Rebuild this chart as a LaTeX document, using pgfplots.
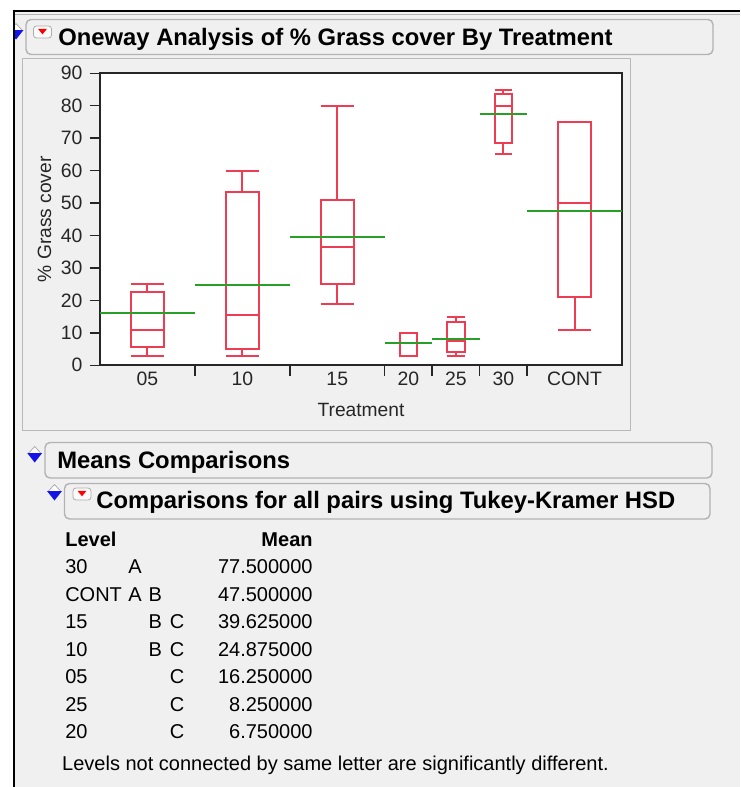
\documentclass[border=0pt]{standalone}
\usepackage{pgfplots}
\pgfplotsset{compat=1.18}
\usepgfplotslibrary{statistics}
\usepackage{fontspec}
\setmainfont{Liberation Sans}

\definecolor{jmpred}{RGB}{238,60,82}
\definecolor{jmpgreen}{RGB}{40,160,40}
\definecolor{panel}{RGB}{240,240,240}
\definecolor{hdrline}{RGB}{178,178,178}
\definecolor{iconblue}{RGB}{20,20,230}

\newcommand{\hdrfont}{\fontsize{11.9}{14}\selectfont\bfseries}
\newcommand{\tabfont}{\fontsize{10}{12}\selectfont}

% disclosure icon: centre x, split y
\newcommand{\disclose}[2]{%
  \fill[white] (#1-6,#2) -- (#1+6,#2) -- (#1,#2-6.5) -- cycle;
  \draw[gray!70, line width=0.35pt] (#1-6,#2) -- (#1,#2-6.5) -- (#1+6,#2);
  \fill[iconblue] (#1-7.5,#2) -- (#1+7.5,#2) -- (#1,#2+9.5) -- cycle;}
% red menu button: left, top
\newcommand{\redbtn}[2]{%
  \draw[gray!65, line width=0.4pt, fill=white!96!gray, rounded corners=1.5pt] (#1,#2) rectangle (#1+18,#2+12);
  \fill[red] (#1+4.5,#2+2.8) -- (#1+13.5,#2+2.8) -- (#1+9,#2+8.3) -- cycle;}

\begin{document}
\begin{tikzpicture}
\path[use as bounding box] (0pt,0pt) rectangle (370pt,-393.5pt);

\begin{scope}[x=0.5pt,y=-0.5pt]
\fill[white] (0,0) rectangle (740,787);
\fill[panel] (13,11) rectangle (740,787);
\begin{scope}
  \clip (14,0) rectangle (740,787);
  \disclose{16}{30}
\end{scope}
\draw[black, line width=1pt] (13,11) -- (740,11);
\draw[gray!60, line width=0.6pt] (15,14.5) -- (740,14.5);
\draw[black, line width=1pt] (13.5,11) -- (13.5,787);

% title bar
\draw[hdrline, line width=0.7pt, fill=panel, rounded corners=2.5pt] (26,19.5) rectangle (713,54.5);
\redbtn{33.5}{26}
\node[anchor=base west, inner sep=0pt, font=\hdrfont] at (58,45) {Oneway Analysis of \% Grass cover By Treatment};

% plot panel
\draw[gray!55, line width=0.75pt] (22.5,58.5) rectangle (630.5,430.5);

% means comparisons bars
\disclose{34.7}{453}
\draw[hdrline, line width=0.7pt, fill=panel, rounded corners=2.5pt] (45,442.5) rectangle (712,478);
\node[anchor=base west, inner sep=0pt, font=\hdrfont] at (57,468) {Means Comparisons};
\disclose{54.5}{491}
\draw[hdrline, line width=0.7pt, fill=panel, rounded corners=2.5pt] (64.5,483.5) rectangle (710,519);
\redbtn{73}{488}
\node[anchor=base west, inner sep=0pt, font=\hdrfont] at (96,508.5) {Comparisons for all pairs using Tukey-Kramer HSD};

% connecting letters report
\node[anchor=base west, inner sep=0pt, font=\tabfont\bfseries] at (64.9,546.7) {Level};
\node[anchor=base east, inner sep=0pt, font=\tabfont\bfseries] at (313,546.7) {Mean};
\begin{scope}[every node/.style={inner sep=0pt, font=\tabfont}]
\node[anchor=base west] at (64.9,573.3) {30};
\node[anchor=base west] at (128,573.3) {A};
\node[anchor=base east] at (313,573.3) {77.500000};
\node[anchor=base west] at (64.9,601) {CONT};
\node[anchor=base west] at (128,601) {A};
\node[anchor=base west] at (148.3,601) {B};
\node[anchor=base east] at (313,601) {47.500000};
\node[anchor=base west] at (64.9,628.6) {15};
\node[anchor=base west] at (148.3,628.6) {B};
\node[anchor=base west] at (169.4,628.6) {C};
\node[anchor=base east] at (313,628.6) {39.625000};
\node[anchor=base west] at (64.9,656.2) {10};
\node[anchor=base west] at (148.3,656.2) {B};
\node[anchor=base west] at (169.4,656.2) {C};
\node[anchor=base east] at (313,656.2) {24.875000};
\node[anchor=base west] at (64.9,683.7) {05};
\node[anchor=base west] at (169.4,683.7) {C};
\node[anchor=base east] at (313,683.7) {16.250000};
\node[anchor=base west] at (64.9,711.2) {25};
\node[anchor=base west] at (169.4,711.2) {C};
\node[anchor=base east] at (313,711.2) {8.250000};
\node[anchor=base west] at (64.9,738.7) {20};
\node[anchor=base west] at (169.4,738.7) {C};
\node[anchor=base east] at (313,738.7) {6.750000};
\node[anchor=base west] at (61.8,770) {Levels not connected by same letter are significantly different.};
\end{scope}
\end{scope}

\begin{axis}[
    at={(50pt,-182.65pt)}, anchor=south west,
    scale only axis, width=261pt, height=146pt,
    xmin=0, xmax=44, ymin=0, ymax=90,
    axis background/.style={fill=white},
    axis line style={black!85, line width=1.1pt},
    tick align=outside, major tick length=5.2pt,
    tick style={black!85, line width=0.7pt},
    xtick pos=bottom, ytick pos=left,
    xtick={8,16,24,28,32,36}, xticklabels={},
    extra x ticks={4,12,20,26,30,34,40},
    extra x tick labels={05,10,15,20,25,30,CONT},
    extra x tick style={major tick length=0pt, tick style={draw=none}},
    ytick={0,10,...,90},
    ticklabel style={font=\fontsize{9.7}{11}\selectfont, text=black!85},
    /pgf/number format/assume math mode=true,
    xlabel={Treatment}, ylabel={\% Grass cover},
    label style={font=\fontsize{9.6}{11}\selectfont, text=black!85},
    xlabel style={yshift=3.5pt},
    ylabel style={yshift=-2pt},
    boxplot/draw direction=y,
    boxplot/every box/.style={draw=jmpred, line width=1pt},
    boxplot/every whisker/.style={draw=jmpred, line width=1pt},
    boxplot/every median/.style={draw=jmpred, line width=1pt},
]
% box plots: 8-unit groups (n=8) and 4-unit groups (n=4)
\addplot[jmpred, line width=1pt, boxplot prepared={draw position=4, lower whisker=3, lower quartile=5.5, median=11, upper quartile=22.5, upper whisker=25, box extend=2.8, whisker extend=2.8}] coordinates {};
\addplot[jmpred, line width=1pt, boxplot prepared={draw position=12, lower whisker=3, lower quartile=5, median=15.5, upper quartile=53.5, upper whisker=60, box extend=2.8, whisker extend=2.8}] coordinates {};
\addplot[jmpred, line width=1pt, boxplot prepared={draw position=20, lower whisker=19, lower quartile=25, median=36.5, upper quartile=51, upper whisker=80, box extend=2.8, whisker extend=2.8}] coordinates {};
\addplot[jmpred, line width=1pt, boxplot prepared={draw position=26, lower whisker=3, lower quartile=3, median=7, upper quartile=10, upper whisker=10, box extend=1.45, whisker extend=1.45}] coordinates {};
\addplot[jmpred, line width=1pt, boxplot prepared={draw position=30, lower whisker=3, lower quartile=4, median=7.5, upper quartile=13.5, upper whisker=15, box extend=1.45, whisker extend=1.45}] coordinates {};
\addplot[jmpred, line width=1pt, boxplot prepared={draw position=34, lower whisker=65, lower quartile=68.5, median=80, upper quartile=83.5, upper whisker=85, box extend=1.45, whisker extend=1.45}] coordinates {};
\addplot[jmpred, line width=1pt, boxplot prepared={draw position=40, lower whisker=11, lower quartile=21, median=50, upper quartile=75, upper whisker=75, box extend=2.8, whisker extend=2.8}] coordinates {};
% group means
\addplot[jmpgreen, line width=1pt] coordinates {(0,16.25) (8,16.25)};
\addplot[jmpgreen, line width=1pt] coordinates {(8,24.875) (16,24.875)};
\addplot[jmpgreen, line width=1pt] coordinates {(16,39.625) (24,39.625)};
\addplot[jmpgreen, line width=1pt] coordinates {(24,6.75) (28,6.75)};
\addplot[jmpgreen, line width=1pt] coordinates {(28,8.25) (32,8.25)};
\addplot[jmpgreen, line width=1pt] coordinates {(32,77.5) (36,77.5)};
\addplot[jmpgreen, line width=1pt] coordinates {(36,47.5) (44,47.5)};
\end{axis}
\end{tikzpicture}
\end{document}
